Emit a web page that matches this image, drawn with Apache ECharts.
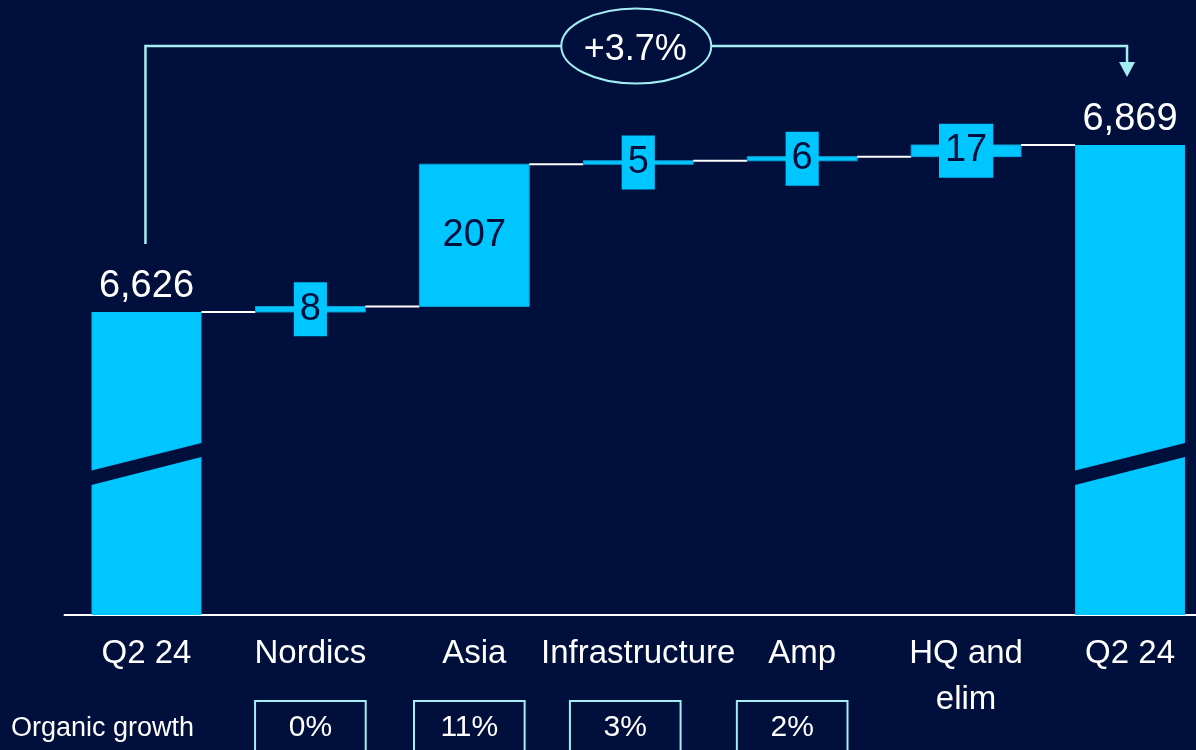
<!DOCTYPE html>
<html>
<head>
<meta charset="utf-8">
<script src="https://cdn.jsdelivr.net/npm/echarts@6/dist/echarts.min.js"></script>
<style>
  html, body { margin: 0; padding: 0; background: #000f3b; }
  #chart { width: 1196px; height: 750px; }
</style>
</head>
<body>
<div id="chart"></div>
<script>
// Sales bridge, Q2 24 -> Q2 24 (SEK m)
const categories = ['Q2 24', 'Nordics', 'Asia', 'Infrastructure', 'Amp', 'HQ and\nelim', 'Q2 24'];
const startTotal = 6626;
const deltas = [8, 207, 5, 6, 17];          // Nordics, Asia, Infrastructure, Amp, HQ and elim
const endTotal = 6869;
const organicGrowth = ['', '0%', '11%', '3%', '2%', '', ''];

// Truncated value scale (the total bars carry a break mark)
const axisMin = 6185;
const axisMax = 7080;
const breakValue = 6405;

const NAVY = '#000f3b';
const CYAN = '#00c6ff';
const EDGE = '#0a9ed6';
const BRACKET = '#a2eef4';
const FONT = '"Liberation Sans", Arial, sans-serif';
// horizontal nudge (px) of each organic-growth box relative to its category centre
const growthBoxNudge = [0, 0, -5, -13, -10, 0, 0];

// Waterfall rows: [category index, low, high, isTotal, label value]
const rows = [];
rows.push([0, axisMin, startTotal, 1, startTotal]);
let level = startTotal;
deltas.forEach(function (d, i) {
  rows.push([i + 1, level, level + d, 0, d]);
  level += d;
});
rows.push([categories.length - 1, axisMin, endTotal, 1, endTotal]);

const growthRows = [];
organicGrowth.forEach(function (g, i) { if (g) growthRows.push({ idx: i, text: g }); });

function renderWaterfall(params, api) {
  const idx = api.value(0);
  const low = api.value(1);
  const high = api.value(2);
  const isTotal = api.value(3) === 1;
  const labelVal = api.value(4);
  const band = api.size([1, 0])[0];
  const w = band * 0.67;
  const pLow = api.coord([idx, low]);
  const pHigh = api.coord([idx, high]);
  const cx = pLow[0];
  const yTop = pHigh[1];
  const yBot = pLow[1];
  const children = [];

  children.push({
    type: 'rect',
    shape: { x: cx - w / 2, y: yTop, width: w, height: yBot - yTop },
    style: isTotal ? { fill: CYAN } : { fill: CYAN, stroke: EDGE, lineWidth: 1 }
  });

  if (isTotal) {
    const c = api.coord([idx, breakValue])[1];
    const xl = cx - w / 2 - 1, xr = cx + w / 2 + 1;
    children.push({
      type: 'polygon',
      shape: { points: [[xl, c + 7], [xr, c - 21], [xr, c - 7], [xl, c + 21.5]] },
      style: { fill: NAVY }
    });
    children.push({
      type: 'text',
      x: cx, y: yTop - 25,
      style: {
        text: labelVal.toLocaleString('en-US'),
        fill: '#ffffff', font: '38px ' + FONT,
        align: 'center', verticalAlign: 'middle'
      }
    });
  } else {
    children.push({
      type: 'text',
      x: cx, y: (yTop + yBot) / 2,
      style: {
        text: String(labelVal),
        fill: NAVY, font: '38px ' + FONT,
        align: 'center', verticalAlign: 'middle',
        lineHeight: 38,
        backgroundColor: CYAN, padding: [8, 6]
      }
    });
  }

  // connector to the next bar at the running level
  if (idx < categories.length - 1) {
    children.push({
      type: 'line',
      shape: { x1: cx + w / 2, y1: yTop, x2: cx + band - w / 2, y2: yTop },
      style: { stroke: '#ffffff', lineWidth: 2 }
    });
  }
  return { type: 'group', children: children };
}

function renderGrowth(params, api) {
  const row = growthRows[params.dataIndex];
  const p = api.coord([api.value(0), axisMin]);
  const w = api.size([1, 0])[0] * 0.675;
  const cx = p[0] + growthBoxNudge[row.idx];
  return {
    type: 'group',
    children: [
      {
        type: 'rect',
        shape: { x: cx - w / 2, y: p[1] + 86, width: w, height: 56 },
        style: { fill: 'none', stroke: BRACKET, lineWidth: 2 }
      },
      {
        type: 'text',
        x: cx, y: p[1] + 113,
        style: {
          text: row.text, fill: '#ffffff', font: '30px ' + FONT,
          align: 'center', verticalAlign: 'middle'
        }
      }
    ]
  };
}

const chart = echarts.init(document.getElementById('chart'), null, { renderer: 'canvas' });

chart.setOption({
  backgroundColor: NAVY,
  animation: false,
  grid: { left: 64.5, right: -16, top: 0, bottom: 135, outerBoundsMode: 'none', containLabel: false },
  xAxis: {
    type: 'category',
    data: categories,
    axisLine: { show: true, lineStyle: { color: '#ffffff', width: 2 } },
    axisTick: { show: false },
    axisLabel: {
      interval: 0, color: '#ffffff', fontSize: 33, fontFamily: FONT,
      lineHeight: 46, margin: 16
    },
    splitLine: { show: false }
  },
  yAxis: {
    type: 'value', min: axisMin, max: axisMax, show: false,
    splitLine: { show: false }
  },
  series: [
    {
      type: 'custom',
      renderItem: renderWaterfall,
      data: rows,
      clip: false,
      z: 3
    },
    {
      type: 'custom',
      renderItem: renderGrowth,
      data: growthRows.map(function (r) { return [r.idx, axisMin]; }),
      clip: false,
      z: 3
    }
  ]
});

// Overall change bracket from the opening to the closing total
const xL = chart.convertToPixel({ xAxisIndex: 0 }, 0);
const xR = chart.convertToPixel({ xAxisIndex: 0 }, categories.length - 1);
const yStartTop = chart.convertToPixel({ yAxisIndex: 0 }, startTotal);
const bracketY = 46;
const midX = (xL + xR) / 2;
const change = ((endTotal / startTotal) - 1) * 100;

chart.setOption({
  graphic: [
    {
      type: 'polyline',
      shape: { points: [[xL - 1, yStartTop - 68], [xL - 1, bracketY], [xR - 3, bracketY], [xR - 3, bracketY + 16]] },
      style: { stroke: BRACKET, lineWidth: 2.5, fill: 'none' },
      z: 10
    },
    {
      type: 'polygon',
      shape: { points: [[xR - 11, bracketY + 16], [xR + 5, bracketY + 16], [xR - 3, bracketY + 31]] },
      style: { fill: BRACKET },
      z: 10
    },
    {
      type: 'ellipse',
      shape: { cx: midX - 2, cy: bracketY, rx: 75, ry: 37.5 },
      style: { fill: NAVY, stroke: BRACKET, lineWidth: 2 },
      z: 11
    },
    {
      type: 'text',
      x: midX - 3, y: bracketY + 4,
      style: {
        text: (change >= 0 ? '+' : '') + change.toFixed(1) + '%',
        fill: '#ffffff', font: '36px ' + FONT,
        align: 'center', verticalAlign: 'middle'
      },
      z: 12
    },
    {
      type: 'text',
      left: 11, top: 727 - 12,
      style: {
        text: 'Organic growth', fill: '#ffffff', font: '27px ' + FONT
      },
      z: 10
    }
  ]
});
</script>
</body>
</html>
